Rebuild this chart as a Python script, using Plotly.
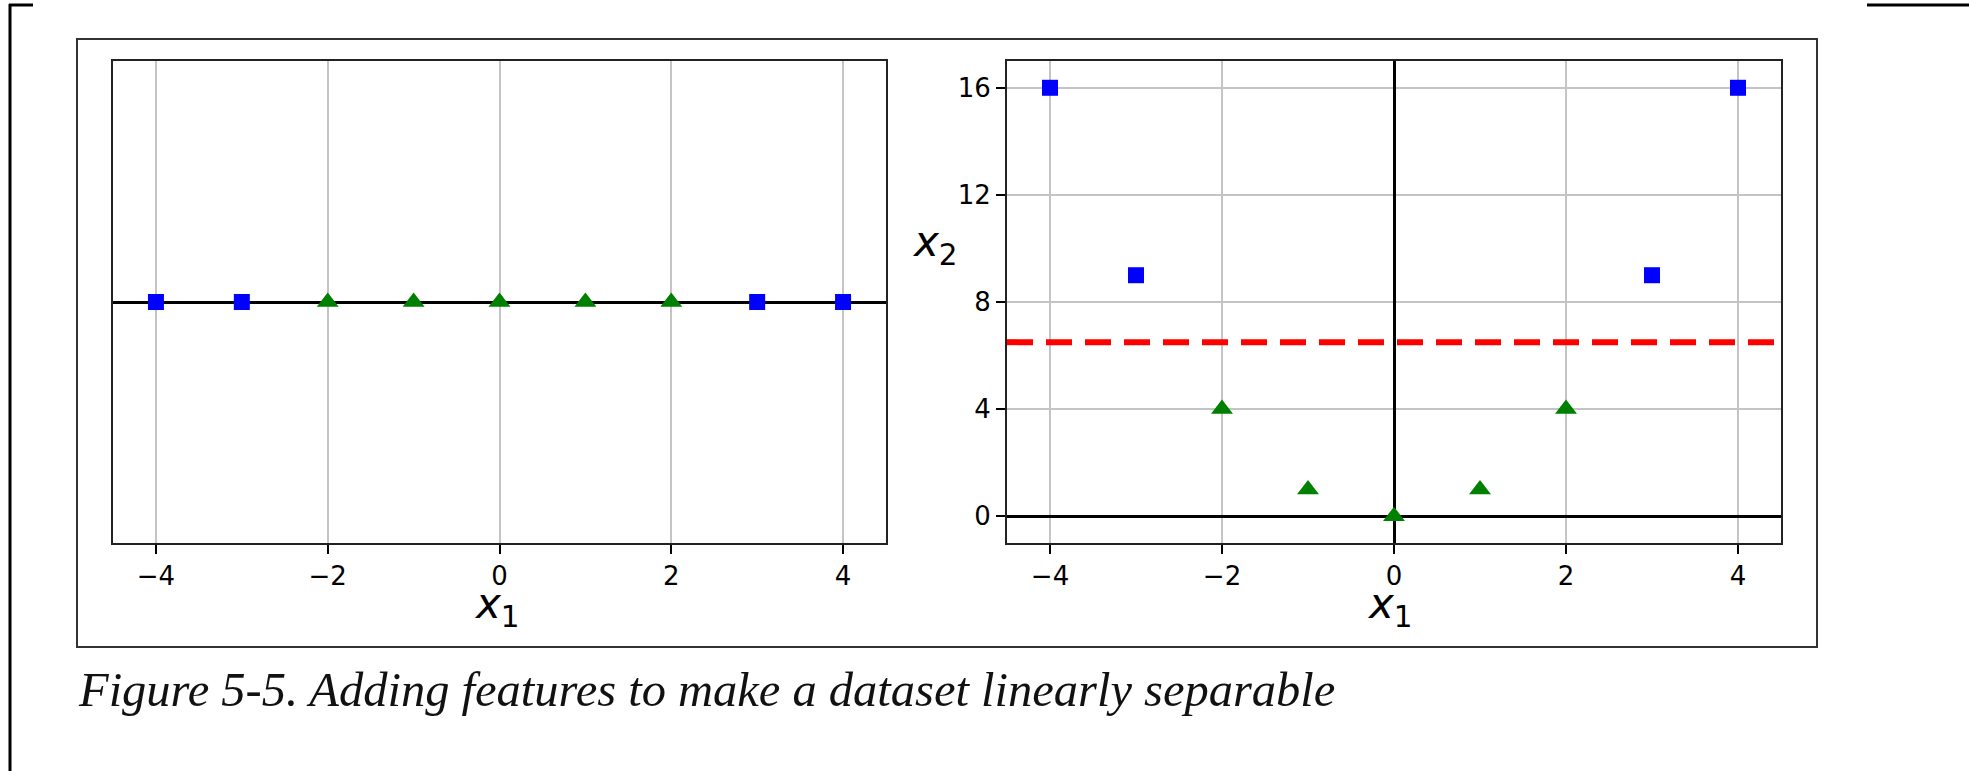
import plotly.graph_objects as go

W, H = 1969, 771

# ---- data ----
x1_values = [-4, -3, -2, -1, 0, 1, 2, 3, 4]
labels = [0, 0, 1, 1, 1, 1, 1, 0, 0]       # 0 = blue squares, 1 = green triangles
x2_values = [v ** 2 for v in x1_values]    # added feature x2 = x1^2
boundary_x2 = 6.5                          # red dashed separating line
x_ticks = [-4, -2, 0, 2, 4]
y_ticks = [0, 4, 8, 12, 16]
caption = "Figure 5-5. Adding features to make a dataset linearly separable"

blue_x = [x for x, l in zip(x1_values, labels) if l == 0]
green_x = [x for x, l in zip(x1_values, labels) if l == 1]
blue_x2 = [x2 for x2, l in zip(x2_values, labels) if l == 0]
green_x2 = [x2 for x2, l in zip(x2_values, labels) if l == 1]

def px(x):
    return x / W

def py(y):
    return (H - y) / H

fig = go.Figure()

sq = dict(symbol="square", size=16, color="#0000ff")
tri = dict(symbol="triangle-up", size=19, color="#008000")

# left panel
fig.add_trace(go.Scatter(x=blue_x, y=[0] * len(blue_x), mode="markers", marker=sq,
                         xaxis="x", yaxis="y", showlegend=False))
fig.add_trace(go.Scatter(x=green_x, y=[0] * len(green_x), mode="markers", marker=tri,
                         xaxis="x", yaxis="y", showlegend=False))
# right panel
fig.add_trace(go.Scatter(x=blue_x, y=blue_x2, mode="markers", marker=sq,
                         xaxis="x2", yaxis="y2", showlegend=False))
fig.add_trace(go.Scatter(x=green_x, y=green_x2, mode="markers", marker=tri,
                         xaxis="x2", yaxis="y2", showlegend=False))

font_ticks = dict(family="DejaVu Sans", size=26, color="black")
common_x = dict(range=[-4.5, 4.5], tickvals=x_ticks, ticks="outside", ticklen=9,
                tickwidth=1.5, tickcolor="black", showline=True, mirror=True,
                linecolor="#222", linewidth=2, showgrid=True, gridcolor="#c4c4c4",
                gridwidth=1.5, tickfont=font_ticks, fixedrange=True)

ydom = [py(543), py(61)]

fig.update_layout(
    width=W, height=H,
    margin=dict(l=0, r=0, t=0, b=0),
    paper_bgcolor="white", plot_bgcolor="white",
    xaxis=dict(domain=[px(113), px(886)], anchor="y", zeroline=False, **common_x),
    yaxis=dict(domain=ydom, anchor="x", range=[-0.2, 0.2], showticklabels=False,
               ticks="", showgrid=False, zeroline=True, zerolinecolor="black",
               zerolinewidth=3, showline=True, mirror=True, linecolor="#222",
               linewidth=2, fixedrange=True),
    xaxis2=dict(domain=[px(1007), px(1781)], anchor="y2", zeroline=True,
                zerolinecolor="black", zerolinewidth=3, **common_x),
    yaxis2=dict(domain=ydom, anchor="x2", range=[-1, 17], tickvals=y_ticks,
                ticks="outside", ticklen=9, tickwidth=1.5, tickcolor="black",
                showline=True, mirror=True, linecolor="#222", linewidth=2,
                showgrid=True, gridcolor="#c4c4c4", gridwidth=1.5,
                zeroline=True, zerolinecolor="black", zerolinewidth=3,
                tickfont=font_ticks, fixedrange=True),
)

shapes = []
# red dashed decision boundary in the x1-x2 plane
shapes.append(dict(type="line", xref="x2 domain", yref="y2", x0=0, x1=1,
                   y0=boundary_x2, y1=boundary_x2,
                   line=dict(color="#ff0000", width=6, dash="26px,13px")))
# outer figure box
shapes.append(dict(type="rect", xref="paper", yref="paper",
                   x0=px(77), x1=px(1817), y0=py(647), y1=py(39),
                   line=dict(color="#333", width=2)))
# page decorations
shapes.append(dict(type="line", xref="paper", yref="paper", x0=px(10), x1=px(10),
                   y0=py(4), y1=py(771), line=dict(color="black", width=3)))
shapes.append(dict(type="line", xref="paper", yref="paper", x0=px(9), x1=px(33),
                   y0=py(5), y1=py(5), line=dict(color="black", width=3)))
shapes.append(dict(type="line", xref="paper", yref="paper", x0=px(1867), x1=px(1969),
                   y0=py(5), y1=py(5), line=dict(color="black", width=3)))
fig.update_layout(shapes=shapes)

lab_font = dict(family="DejaVu Sans", size=42, color="black")
annotations = [
    dict(text="<i>x</i><sub>1</sub>", xref="paper", yref="paper",
         x=px(497), y=py(606), xanchor="center", yanchor="middle",
         showarrow=False, font=lab_font),
    dict(text="<i>x</i><sub>1</sub>", xref="paper", yref="paper",
         x=px(1390), y=py(606), xanchor="center", yanchor="middle",
         showarrow=False, font=lab_font),
    dict(text="<i>x</i><sub>2</sub>", xref="paper", yref="paper",
         x=px(935), y=py(245), xanchor="center", yanchor="middle",
         showarrow=False, font=lab_font),
    dict(text="<i>" + caption + "</i>", xref="paper", yref="paper",
         x=px(76), y=py(689), xanchor="left", yanchor="middle",
         showarrow=False, font=dict(family="Liberation Serif", size=48.5, color="#111")),
]
fig.update_layout(annotations=annotations)

fig.write_html("out.html")
